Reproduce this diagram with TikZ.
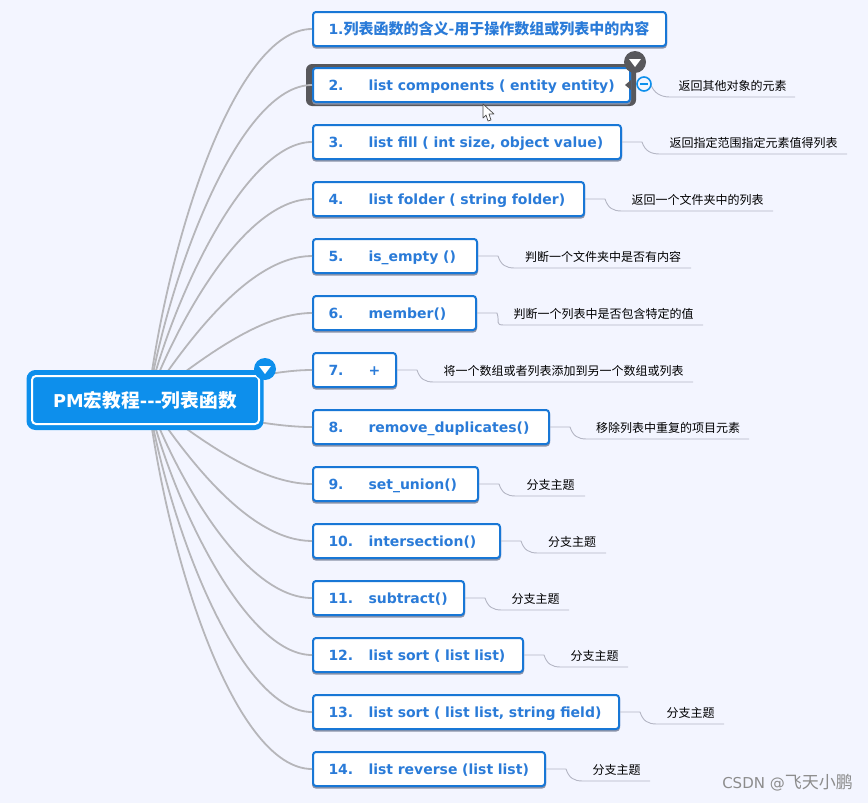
\documentclass[tikz,border=0pt]{standalone}
\usepackage{fontspec}
\setmainfont{DejaVu Sans}
\newfontfamily\cjk{Noto Sans CJK SC}
\definecolor{bgc}{HTML}{F3F5FF}
\definecolor{tblue}{HTML}{2A7BD8}
\definecolor{bline}{HTML}{1877D6}
\definecolor{rootb}{HTML}{0D8FEC}
\definecolor{conn}{HTML}{B6B6BA}
\definecolor{leafl}{HTML}{B4B6C4}
\definecolor{dgray}{HTML}{58585C}
\definecolor{shad}{HTML}{8C93A8}
\newcommand{\fs}{\fontsize{14}{16}\selectfont}
\newcommand{\numt}[2]{\mbox{\makebox[40pt][l]{#1}#2}}
\tikzset{
  x=1pt,y=-1pt,
  topic/.style={draw=bline,line width=2pt,fill=white,rounded corners=3pt,anchor=west,minimum height=34pt,
    inner sep=0pt,inner xsep=15.5pt,align=left,font=\fs\bfseries,text=tblue,text height=12pt,text depth=1pt,
    preaction={draw=shad,line width=2pt,transform canvas={yshift=-1.6pt}}},
  leaf/.style={anchor=south,inner sep=0pt,minimum height=21pt,font=\cjk\fontsize{12}{14}\selectfont,text=black},
  mainc/.style={conn,line width=1.8pt},
  subc/.style={leafl,line width=.9pt},
}
\newcommand{\topic}[4]{\node[topic,text width=#3-311-33pt] (#1) at (312,#2) {#4};}
\newcommand{\leafnode}[5]{\node[leaf,minimum width=#4-#3] (#1) at ({(#3+#4)/2},#2) {#5};}
\newcommand{\sub}[2]{\draw[subc] (#1.east) -- ++(20,0) .. controls +(3,9) and +(-9,0) .. (#2.south west) -- (#2.south east);}
\begin{document}
\begin{tikzpicture}
\useasboundingbox (0,0) rectangle (868,803);
\fill[bgc] (0,0) rectangle (868,803);

% topics
\topic{t1}{29}{666}{\mbox{1.{\cjk\bfseries\fontsize{15}{16}\selectfont 列表函数的含义-用于操作数组或列表中的内容}}}
\topic{t3}{142}{621}{\numt{3.}{list fill ( int size, object value)}}
\topic{t4}{199}{584}{\numt{4.}{list folder ( string folder)}}
\topic{t5}{256}{477}{\numt{5.}{is\_empty ()}}
\topic{t6}{313}{476}{\numt{6.}{member()}}
\topic{t7}{370}{396}{\numt{7.}{+}}
\topic{t8}{427}{549}{\numt{8.}{remove\_duplicates()}}
\topic{t9}{484}{478}{\numt{9.}{set\_union()}}
\topic{t10}{541}{500}{\numt{10.}{intersection()}}
\topic{t11}{598}{464}{\numt{11.}{subtract()}}
\topic{t12}{655}{523}{\numt{12.}{list sort ( list list)}}
\topic{t13}{712}{619}{\numt{13.}{list sort ( list list, string field)}}
\topic{t14}{769}{545}{\numt{14.}{list reverse (list list)}}

\fill[dgray,rounded corners=6pt] (306,64) rectangle (636,106);
\node[topic,preaction={},text width=630-311-33pt] (t2) at (312,85) {\numt{2.}{list components ( entity entity)}};

\coordinate (o) at (148,400);

% main connectors
\draw[mainc] (o) .. controls (168,240) and (235,29) .. (t1.west);
\draw[mainc] (o) .. controls (170,270) and (240,85) .. (t2.west);
\draw[mainc] (o) .. controls (172,300) and (245,142) .. (t3.west);
\draw[mainc] (o) .. controls (178,320) and (245,199) .. (t4.west);
\draw[mainc] (o) .. controls (188,340) and (250,256) .. (t5.west);
\draw[mainc] (o) .. controls (200,360) and (260,313) .. (t6.west);
\draw[mainc] (o) .. controls (220,385) and (270,370) .. (t7.west);
\draw[mainc] (o) .. controls (220,415) and (270,427) .. (t8.west);
\draw[mainc] (o) .. controls (200,440) and (260,484) .. (t9.west);
\draw[mainc] (o) .. controls (188,460) and (250,541) .. (t10.west);
\draw[mainc] (o) .. controls (178,480) and (245,598) .. (t11.west);
\draw[mainc] (o) .. controls (172,500) and (245,655) .. (t12.west);
\draw[mainc] (o) .. controls (170,530) and (240,712) .. (t13.west);
\draw[mainc] (o) .. controls (168,560) and (235,769) .. (t14.west);

% root
\node[fill=rootb,draw=rootb,line width=4pt,rounded corners=7pt,minimum width=233pt,minimum height=56pt,
  inner sep=0pt,text=white,font=\bfseries\fontsize{17.7}{18}\selectfont] (rootbox) at (145,400)
  {PM{\cjk\bfseries\fontsize{18.7}{18}\selectfont 宏教程}-{}-{}-{\cjk\bfseries\fontsize{18.7}{18}\selectfont 列表函数}};
\draw[white,line width=2pt,rounded corners=4pt] (32,376) rectangle (259,424);
\fill[rootb] (265,369) circle (11);
\fill[white] (259,366) -- (271,366) -- (265,374) -- cycle;

% leaves
\leafnode{l2}{97}{670}{795}{返回其他对象的元素}
\leafnode{l3}{154}{660}{847}{返回指定范围指定元素值得列表}
\leafnode{l4}{211}{622}{773}{返回一个文件夹中的列表}
\leafnode{l5}{268}{515}{691}{判断一个文件夹中是否有内容}
\leafnode{l6}{325}{504}{703}{判断一个列表中是否包含特定的值}
\leafnode{l7}{382}{434}{693}{将一个数组或者列表添加到另一个数组或列表}
\leafnode{l8}{439}{587}{749}{移除列表中重复的项目元素}
\leafnode{l9}{496}{516}{585}{分支主题}
\leafnode{l10}{553}{538}{606}{分支主题}
\leafnode{l11}{610}{502}{569}{分支主题}
\leafnode{l12}{667}{561}{628}{分支主题}
\leafnode{l13}{724}{657}{724}{分支主题}
\leafnode{l14}{781}{583}{650}{分支主题}

\draw[subc] (651,85) .. controls +(3,8) and +(-9,0) .. (l2.south west) -- (l2.south east);
\sub{t3}{l3}\sub{t4}{l4}\sub{t5}{l5}\sub{t6}{l6}\sub{t7}{l7}\sub{t8}{l8}
\sub{t9}{l9}\sub{t10}{l10}\sub{t11}{l11}\sub{t12}{l12}\sub{t13}{l13}\sub{t14}{l14}

% badges on topic 2
\fill[dgray] (635,62) circle (11);
\fill[white] (629,59) -- (641,59) -- (635,67) -- cycle;
\fill[dgray] (625,85) -- (631,80) -- (631,90) -- cycle;
\draw[rootb,line width=1.6pt,fill=bgc] (644,84) circle (7);
\draw[rootb,line width=1.6pt] (640,84) -- (648,84);
% cursor
\draw[black!70,fill=white,line width=.7pt,line join=round]
 (483,104) -- (483,118) -- (486,115) -- (488,121) -- (491,120) -- (489,114) -- (494,114) -- cycle;
% watermark
\node[anchor=east,inner sep=0pt,text=black!45,font=\fontsize{15}{15}\selectfont] (wm) at (853,783) {CSDN @{\cjk\fontsize{17}{18}\selectfont 飞天小鹏}};
\end{tikzpicture}
\end{document}
